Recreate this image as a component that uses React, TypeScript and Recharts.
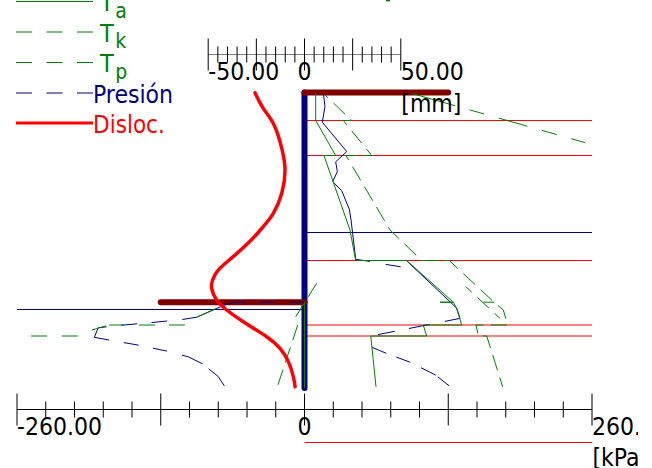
import { LineChart, Line, XAxis, YAxis, ReferenceLine, Legend } from 'recharts';

type Pt = { x: number; y: number };

const FONT = "'DejaVu Sans Condensed', 'DejaVu Sans', sans-serif";
const GREEN = '#008000';
const NAVY = '#000080';
const RED = '#ff0000';
const DARKRED = '#800000';
const DASH = '16 14.5';
const DASH_TK = '16 7.5';

// x = kPa (or mm for the displacement), y = depth in m
const kpaTicks = [-260, -234, -208, -182, -156, -130, -104, -78, -52, -26, 0, 26, 52, 78, 104, 130, 156, 182, 208, 234, 260];
const kpaMajor = [-260, -130, 0, 130, 260];
const mmTicks = [-50, -45, -40, -35, -30, -25, -20, -15, -10, -5, 0, 5, 10, 15, 20, 25, 30, 35, 40, 45, 50];
const mmMajor = [-50, -25, 0, 25, 50];

const layerDepths = [0.933, 2.1, 5.6, 7.75, 8.117];
const waterRight = 4.667;
const waterLeft = 7.233;
const belowAxisDepth = 11.667;
const excavationDepth = 6.99;
const wallBottom = 9.85;

const ta: Pt[] = [
  { x: 10.1, y: 0 }, { x: 10.1, y: 0.933 }, { x: 28.2, y: 2.1 }, { x: 17.6, y: 2.1 }, { x: 41.1, y: 4.58 },
  { x: 46.3, y: 5.6 }, { x: 92.4, y: 5.6 }, { x: 134.6, y: 6.99 }, { x: 122.5, y: 6.99 }, { x: 134.6, y: 6.99 },
  { x: 137.6, y: 7.19 }, { x: 142.2, y: 7.75 }, { x: 107.4, y: 7.75 }, { x: 110.5, y: 8.117 }, { x: 59.9, y: 8.117 },
  { x: 64.7, y: 9.81 },
];
const tk: Pt[] = [
  { x: 17, y: 0.03 }, { x: 42.7, y: 0.933 }, { x: 35.1, y: 0.933 }, { x: 60.8, y: 2.1 }, { x: 37.5, y: 2.1 },
  { x: 77.3, y: 4.58 }, { x: 106, y: 5.6 }, { x: 130.9, y: 5.6 }, { x: 171.4, y: 6.99 }, { x: 179.8, y: 7.25 },
  { x: 183.8, y: 7.75 }, { x: 155.1, y: 7.75 }, { x: 157.2, y: 8.117 }, { x: 164.8, y: 8.117 }, { x: 179.2, y: 9.81 },
];
const tkInner: Pt[] = [{ x: 145.8, y: 6.47 }, { x: 176.8, y: 7.53 }];
const tkStub: Pt[] = [{ x: 161.7, y: 6.99 }, { x: 171.4, y: 6.99 }];
const tp: Pt[] = [{ x: 96.9, y: 0.03 }, { x: 253.7, y: 1.67 }];
const tWallUpper: Pt[] = [{ x: 11, y: 6.36 }, { x: -10.7, y: 7.64 }];
const tWallLower: Pt[] = [{ x: -6.1, y: 7.75 }, { x: -24.6, y: 9.81 }];
const tWallLine: Pt[] = [{ x: 0, y: 6.99 }, { x: 0, y: 9.85 }];
const tkLeftA: Pt[] = [{ x: -108.1, y: 7.75 }, { x: -176.8, y: 7.75 }, { x: -192.4, y: 7.92 }];
const tkLeftB: Pt[] = [{ x: -205.1, y: 8.117 }, { x: -247.3, y: 8.117 }];
const tkLeftC: Pt[] = [{ x: -97.5, y: 7.49 }, { x: -80.9, y: 7.22 }];
const tTopEdge: Pt[] = [{ x: 73.7, y: -3.07 }, { x: 77.3, y: -3.07 }];

const presionUpper: Pt[] = [
  { x: 17, y: 0 }, { x: 18.5, y: 0.47 }, { x: 16.1, y: 0.99 }, { x: 38.2, y: 1.97 }, { x: 28.2, y: 2.31 },
  { x: 29.7, y: 2.64 }, { x: 25.5, y: 2.97 }, { x: 33.6, y: 3.27 }, { x: 40.5, y: 3.89 }, { x: 42.1, y: 4.25 },
  { x: 46.3, y: 5.56 }, { x: 59.2, y: 5.63 },
];
const presionStub: Pt[] = [{ x: 73.4, y: 5.73 }, { x: 87, y: 5.81 }];
const presionMiddle: Pt[] = [{ x: 92.4, y: 5.61 }, { x: 134.6, y: 7.08 }, { x: 137.6, y: 7.19 }, { x: 140.6, y: 7.53 }];
const presionLower: Pt[] = [
  { x: 140.6, y: 7.53 }, { x: 60.1, y: 8.117 }, { x: 60.8, y: 8.49 }, { x: 73.7, y: 8.69 }, { x: 95.4, y: 8.99 },
  { x: 118.6, y: 9.42 }, { x: 130.9, y: 9.78 },
];
const presionLeftA: Pt[] = [
  { x: 0, y: 6.99 }, { x: -62.9, y: 6.99 }, { x: -71.9, y: 7.08 }, { x: -80.9, y: 7.22 }, { x: -97.5, y: 7.49 },
  { x: -111, y: 7.57 }, { x: -138.8, y: 7.67 }, { x: -166.2, y: 7.76 }, { x: -186.5, y: 7.84 }, { x: -190.1, y: 8.16 },
];
const presionLeftB: Pt[] = [
  { x: -190.1, y: 8.16 }, { x: -176.8, y: 8.25 }, { x: -150.3, y: 8.42 }, { x: -124.6, y: 8.62 }, { x: -105.1, y: 8.81 },
  { x: -92.4, y: 9.04 }, { x: -78, y: 9.47 }, { x: -72.5, y: 9.78 },
];

// dash runs as they fall along each curve in the picture
const dashLower = '15.4 15.6 21 14.6 17 18.6 15.5 10.7 15 12 16.6 2.6 40 1000';
const dashLeftA = '15 14.3 15.7 14.3 66 15.1 15.8 14.3 16.2 14.7 30 1000';
const dashLeftB = '15 14.9 15.2 14.6 14.4 15.5 22.6 7.6 40 1000';
const dashTp = '45.3 15 15 15.4 29.6 15 15.6 15 16 100';
const dashTkLeft = '16 14 16 15 15 3 20 100';

// mm
const disloc: Pt[] = [
  { x: -25.7, y: 0.01 }, { x: -21.4, y: 0.53 }, { x: -15.8, y: 1.08 }, { x: -11.8, y: 1.86 }, { x: -10.1, y: 2.58 },
  { x: -11.8, y: 3.36 }, { x: -16.2, y: 4.03 }, { x: -21.4, y: 4.47 }, { x: -27.4, y: 4.9 }, { x: -37, y: 5.47 },
  { x: -44.8, y: 5.92 }, { x: -47.7, y: 6.25 }, { x: -48.2, y: 6.53 }, { x: -45.6, y: 6.92 }, { x: -40.4, y: 7.25 },
  { x: -31.8, y: 7.64 }, { x: -19.6, y: 8.14 }, { x: -12.7, y: 8.53 }, { x: -8.4, y: 8.97 }, { x: -5.8, y: 9.47 },
  { x: -4.9, y: 9.81 },
];

const wall: Pt[] = [{ x: 0, y: 0 }, { x: 0, y: wallBottom }];
const topSlab: Pt[] = [{ x: 0, y: 0 }, { x: 130, y: 0 }];
const lowSlab: Pt[] = [{ x: -130, y: excavationDepth }, { x: 0, y: excavationDepth }];

const DEPTH_TOP = -38 / 30;
const DEPTH_BOTTOM = 317 / 30;
const MM_EDGE = 149.27;
const mmAxisLine: Pt[] = [{ x: -50, y: DEPTH_TOP }, { x: 50, y: DEPTH_TOP }];

const legendItems = [
  { name: 'T', sub: 'a', color: GREEN, dash: undefined, width: 1, y: 1.5, textX: 100, base: 11, size: 25 },
  { name: 'T', sub: 'k', color: GREEN, dash: DASH, width: 1, y: 32, textX: 100, base: 41.5, size: 25 },
  { name: 'T', sub: 'p', color: GREEN, dash: DASH, width: 1, y: 62.5, textX: 100, base: 72, size: 25 },
  { name: 'Presión', sub: '', color: NAVY, dash: DASH, width: 1, y: 93, textX: 93, base: 103, size: 24.5 },
  { name: 'Disloc.', sub: '', color: RED, dash: undefined, width: 3, y: 123, textX: 93, base: 133, size: 24 },
];

function LegendBox() {
  return (
    <svg width={200} height={140} style={{ display: 'block' }}>
      {legendItems.map(l => (
        <g key={l.name + l.sub}>
          <line x1={16} x2={93} y1={l.y} y2={l.y} stroke={l.color} strokeWidth={l.width} strokeDasharray={l.dash} />
          <text x={l.textX} y={l.base} fill={l.color} fontFamily={FONT} fontSize={l.size}>
            {l.name}
            {l.sub && <tspan dx={1.5} dy={6.5} fontSize={21}>{l.sub}</tspan>}
          </text>
        </g>
      ))}
    </svg>
  );
}

function makeTick(major: number[], edge: number, unit: string, unitY: number, long: number, short: number) {
  return function AxisTick(props: any) {
    const { x, y, payload } = props;
    const v = payload.value;
    const half = major.includes(v) ? long : short;
    const labelled = v === 0 || Math.abs(v) === edge;
    return (
      <g>
        <line x1={x} x2={x} y1={y - half} y2={y + half} stroke='#000' strokeWidth={1} />
        {labelled && (
          <text x={x} y={y + 25.5} textAnchor={v === 0 ? 'middle' : 'start'} fill='#000' fontFamily={FONT} fontSize={24.5}>
            {v === 0 ? '0' : v.toFixed(2)}
          </text>
        )}
        {v === edge && (
          <text x={x + 0.5} y={y + unitY} fill='#000' fontFamily={FONT} fontSize={24.5}>{unit}</text>
        )}
      </g>
    );
  };
}

const series = (
  key: string,
  data: Pt[],
  stroke: string,
  width = 1,
  dash?: string,
  axis = 'kpa',
  type: any = 'linear',
  offset?: number,
) => (
  <Line
    key={key}
    data={data}
    dataKey='y'
    xAxisId={axis}
    type={type}
    stroke={stroke}
    strokeWidth={width}
    strokeDasharray={dash}
    strokeDashoffset={offset}
    strokeLinecap={width > 2 ? 'round' : 'butt'}
    dot={false}
    activeDot={false}
    legendType='none'
    isAnimationActive={false}
  />
);

export default function App() {
  return (
    <div style={{ position: 'absolute', left: 0, top: 0 }}>
      <LineChart width={638} height={468} margin={{ top: 53.5, left: 17, right: 46, bottom: 57.5 }}>
        <XAxis
          xAxisId='kpa'
          dataKey='x'
          type='number'
          orientation='bottom'
          domain={[-260, 260]}
          ticks={kpaTicks}
          interval={0}
          height={1}
          tickSize={0}
          tickMargin={0}
          stroke='#000'
          tick={makeTick(kpaMajor, 260, '[kPa]', 56, 16, 8)}
        />
        <XAxis
          xAxisId='mm'
          dataKey='x'
          type='number'
          orientation='top'
          domain={[-MM_EDGE, MM_EDGE]}
          ticks={mmTicks}
          interval={0}
          height={1}
          tickSize={0}
          tickMargin={0}
          axisLine={false}
          tick={makeTick(mmMajor, 50, '[mm]', 57, 16, 8)}
        />
        <YAxis dataKey='y' type='number' reversed hide allowDataOverflow domain={[DEPTH_TOP, DEPTH_BOTTOM]} />
        <Legend
          layout='vertical'
          align='center'
          verticalAlign='top'
          wrapperStyle={{ left: 0, top: 0, width: 200, height: 0 }}
          content={() => <LegendBox />}
        />

        {series('mmAxis', mmAxisLine, '#000', 1, undefined, 'mm')}
        {layerDepths.map(d => series('layer' + d, [{ x: 0, y: d }, { x: 260, y: d }], RED))}
        {series('waterR', [{ x: 0, y: waterRight }, { x: 260, y: waterRight }], NAVY)}
        {series('waterL', [{ x: -260, y: waterLeft }, { x: 0, y: waterLeft }], NAVY)}
        <ReferenceLine
          xAxisId='kpa'
          ifOverflow='visible'
          stroke={RED}
          segment={[{ x: 0, y: belowAxisDepth }, { x: 260, y: belowAxisDepth }]}
        />
        <ReferenceLine
          xAxisId='kpa'
          ifOverflow='visible'
          stroke={GREEN}
          strokeWidth={2}
          segment={[tTopEdge[0], tTopEdge[1]]}
        />

        {series('wall', wall, NAVY, 6)}
        {series('topSlab', topSlab, DARKRED, 6)}
        {series('lowSlab', lowSlab, DARKRED, 6)}

        {series('pUpper', presionUpper, NAVY)}
        {series('pStub', presionStub, NAVY)}
        {series('pMiddle', presionMiddle, NAVY)}
        {series('pLower', presionLower, NAVY, 1, dashLower)}
        {series('pLeftA', presionLeftA, NAVY, 1, dashLeftA)}
        {series('pLeftB', presionLeftB, NAVY, 1, dashLeftB)}

        {series('ta', ta, GREEN)}
        {series('tk', tk, GREEN, 1, DASH_TK, 'kpa', 'linear', 9.6)}
        {series('tkInner', tkInner, GREEN, 1, DASH_TK, 'kpa', 'linear', 7.7)}
        {series('tkStub', tkStub, GREEN)}
        {series('tp', tp, GREEN, 1, dashTp)}
        {series('tWallUpper', tWallUpper, GREEN, 1, DASH_TK)}
        {series('tWallLower', tWallLower, GREEN, 1, DASH_TK)}
        {series('tWallLine', tWallLine, GREEN)}
        {series('tkLeftA', tkLeftA, GREEN, 1, dashTkLeft)}
        {series('tkLeftB', tkLeftB, GREEN, 1, DASH)}
        {series('tkLeftC', tkLeftC, GREEN)}

        {series('disloc', disloc, RED, 3.5, undefined, 'mm', 'natural')}
      </LineChart>
    </div>
  );
}
